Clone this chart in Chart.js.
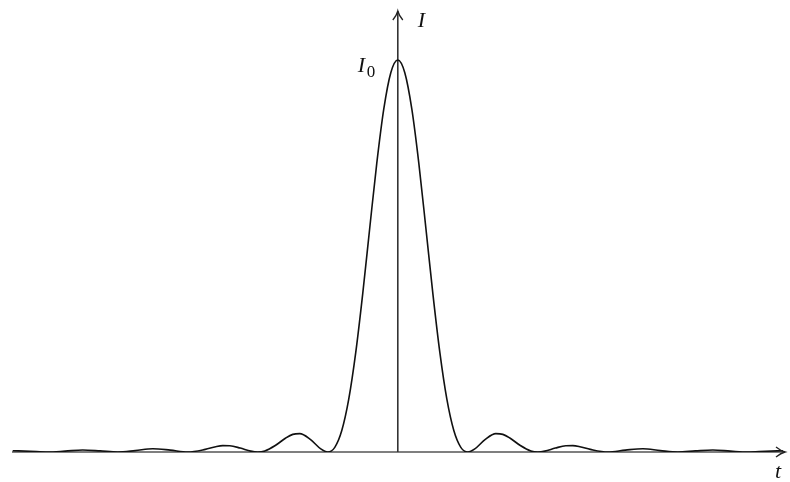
<!DOCTYPE html>
<html>
<head>
<meta charset="utf-8">
<script src="https://cdn.jsdelivr.net/npm/chart.js@4/dist/chart.umd.min.js"></script>
<style>
html,body{margin:0;padding:0;background:#fff;}
#wrap{width:790px;height:482px;}
</style>
</head>
<body>
<div id="wrap"><canvas id="c" width="790" height="482"></canvas></div>
<script>
// positions along t (units of first-zero spacing) and intensity I / I0
const tValues = [-5.5,-5.25,-5,-4.75,-4.5,-4.25,-4,-3.75,-3.5,-3.25,-3,-2.75,-2.6,-2.5,-2.4,-2.25,-2.1,-2,-1.9,-1.75,-1.6,-1.5,-1.4,-1.25,-1.1,-1,-0.9,-0.8,-0.7,-0.6,-0.5,-0.4,-0.3,-0.2,-0.1,
  0,
  0.1,0.2,0.3,0.4,0.5,0.6,0.7,0.8,0.9,1,1.1,1.25,1.4,1.5,1.6,1.75,1.9,2,2.1,2.25,2.4,2.5,2.6,2.75,3,3.25,3.5,3.75,4,4.25,4.5,4.75,5,5.25,5.5];
const intensity = [0.0033,0.0018,0,0.0022,0.0050,0.0028,0,0.0036,0.0083,0.0048,0,0.0067,0.0136,0.0162,0.0159,0.0100,0.0022,0,0.0027,0.0165,0.0358,0.0450,0.0468,0.0324,0.0080,0,0.0119,0.0547,0.1353,0.2546,0.4053,0.5728,0.7368,0.8751,0.9675,
  1,
  0.9675,0.8751,0.7368,0.5728,0.4053,0.2546,0.1353,0.0547,0.0119,0,0.0080,0.0324,0.0468,0.0450,0.0358,0.0165,0.0027,0,0.0022,0.0100,0.0159,0.0162,0.0136,0.0067,0,0.0048,0.0083,0.0036,0,0.0028,0.0050,0.0022,0,0.0018,0.0033];
const axisLabels = {y: "I", peak: "I", peakSub: "0", x: "t"};

const points = tValues.map((t, i) => ({x: t, y: intensity[i]}));

const axesPlugin = {
  id: 'axesPlugin',
  beforeDatasetsDraw(chart) {
    const ctx = chart.ctx;
    const xs = chart.scales.x, ys = chart.scales.y;
    const y0 = ys.getPixelForValue(0);
    const x0 = xs.getPixelForValue(0);
    const left = chart.chartArea.left, right = chart.chartArea.right;
    const top = chart.chartArea.top;
    ctx.save();
    ctx.strokeStyle = '#555';
    ctx.lineWidth = 1.6;
    // horizontal axis
    ctx.beginPath(); ctx.moveTo(left, y0); ctx.lineTo(right, y0); ctx.stroke();
    // vertical axis
    ctx.strokeStyle = '#333';
    ctx.beginPath(); ctx.moveTo(x0, y0); ctx.lineTo(x0, top); ctx.stroke();
    ctx.restore();
  },
  afterDatasetsDraw(chart) {
    const ctx = chart.ctx;
    const xs = chart.scales.x, ys = chart.scales.y;
    const y0 = ys.getPixelForValue(0);
    const x0 = xs.getPixelForValue(0);
    const right = chart.chartArea.right, top = chart.chartArea.top;
    ctx.save();
    ctx.strokeStyle = '#222';
    ctx.lineWidth = 1.3;
    // right arrowhead
    ctx.beginPath();
    ctx.moveTo(right - 9, y0 - 5); ctx.quadraticCurveTo(right - 4, y0 - 1, right, y0);
    ctx.quadraticCurveTo(right - 4, y0 + 1, right - 9, y0 + 5);
    ctx.stroke();
    // top arrowhead
    ctx.beginPath();
    ctx.moveTo(x0 - 5, top + 9); ctx.quadraticCurveTo(x0 - 1, top + 4, x0, top);
    ctx.quadraticCurveTo(x0 + 1, top + 4, x0 + 5, top + 9);
    ctx.stroke();
    // labels
    ctx.fillStyle = '#111';
    ctx.textBaseline = 'alphabetic';
    ctx.font = 'italic 22px "Liberation Serif", "DejaVu Serif", serif';
    ctx.fillText(axisLabels.y, x0 + 20, 27);
    const py = ys.getPixelForValue(1);
    ctx.fillText(axisLabels.peak, x0 - 40, py + 12);
    ctx.font = '17px "Liberation Serif", "DejaVu Serif", serif';
    ctx.fillText(axisLabels.peakSub, x0 - 31, py + 17);
    ctx.font = 'italic 22px "Liberation Serif", "DejaVu Serif", serif';
    ctx.fillText(axisLabels.x, right - 10, y0 + 26);
    ctx.restore();
  }
};

new Chart(document.getElementById('c'), {
  type: 'line',
  data: {
    datasets: [{
      data: points,
      borderColor: '#111',
      borderWidth: 1.6,
      pointRadius: 0,
      fill: false,
      cubicInterpolationMode: 'monotone'
    }]
  },
  options: {
    responsive: false,
    animation: false,
    layout: {padding: {left: 12, right: 5, top: 11, bottom: 30}},
    plugins: {legend: {display: false}, tooltip: {enabled: false}},
    scales: {
      x: {type: 'linear', min: -5.51, max: 5.53, display: false},
      y: {type: 'linear', min: 0, max: 1.125, display: false}
    }
  },
  plugins: [axesPlugin]
});
</script>
</body>
</html>
